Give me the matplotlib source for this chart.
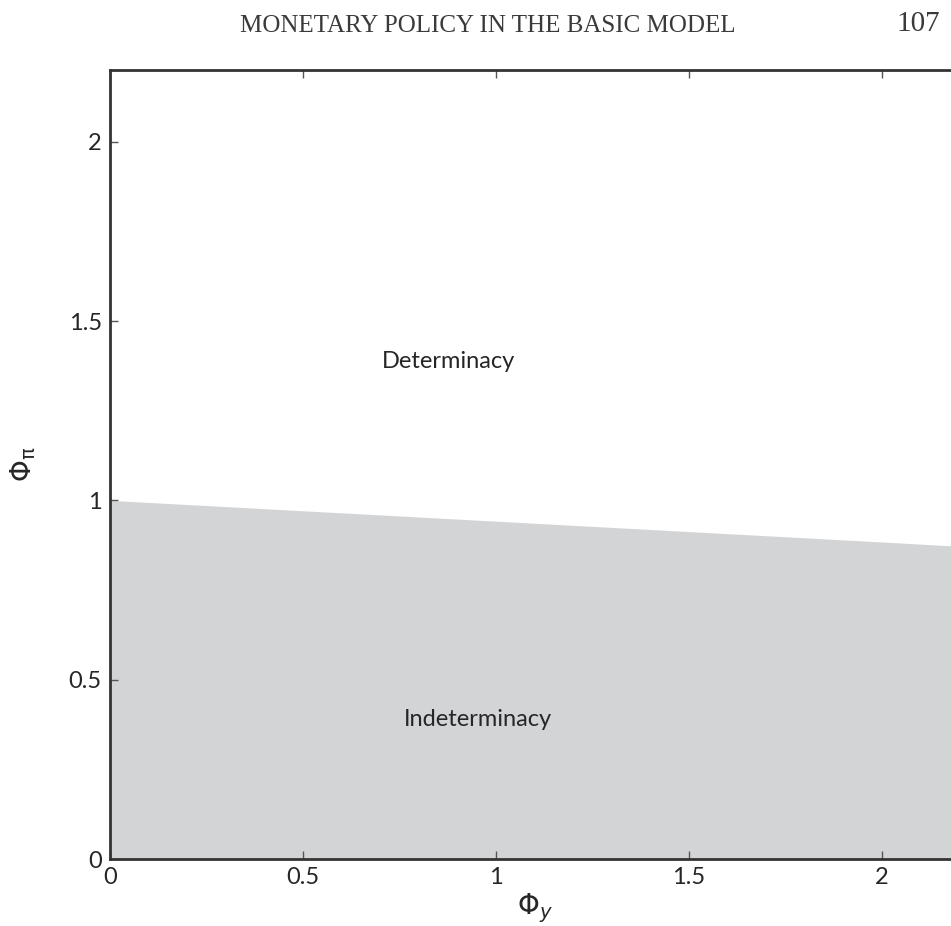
import matplotlib.pyplot as plt

# boundary of the indeterminacy region
phi_y = [0.0, 0.5, 1.0, 1.5, 2.0, 2.2]
phi_pi_boundary = [1.0, 0.971, 0.942, 0.913, 0.884, 0.872]

x_ticks = [0, 0.5, 1, 1.5, 2]
x_tick_labels = ["0", "0.5", "1", "1.5", "2"]
y_ticks = [0, 0.5, 1, 1.5, 2]
y_tick_labels = ["0", "0.5", "1", "1.5", "2"]

plt.rcParams["mathtext.fontset"] = "custom"
plt.rcParams["mathtext.it"] = "DejaVu Sans:italic"
plt.rcParams["mathtext.rm"] = "DejaVu Sans"

fig = plt.figure(figsize=(9.51, 9.26), dpi=100)
ax = fig.add_axes([110 / 951, 1 - 859 / 926, (959 - 110) / 951, (859 - 70) / 926])

# shaded indeterminacy area
ax.fill_between(phi_y, 0, phi_pi_boundary, color="#d3d4d6", linewidth=0)

ax.text(0.876, 1.386, "Determinacy", family="Lato", fontsize=17, color="#262626",
        ha="center", va="center")
ax.text(0.953, 0.388, "Indeterminacy", family="Lato", fontsize=17, color="#262626",
        ha="center", va="center")

ax.set_xlim(0, 2.2)
ax.set_ylim(0, 2.2)
ax.set_xticks(x_ticks)
ax.set_xticklabels(x_tick_labels, family="Lato", fontsize=17, color="#262626")
ax.set_yticks(y_ticks)
ax.set_yticklabels(y_tick_labels, family="Lato", fontsize=17, color="#262626")
ax.tick_params(direction="in", length=6, width=1.0, color="#555555",
               top=True, right=True, pad=6)

for s in ax.spines.values():
    s.set_linewidth(2.0)
    s.set_color("#333333")

ax.set_xlabel("$\\mathit{Φ}_\\mathit{y}$", fontsize=20, color="#262626", labelpad=2)
ax.set_ylabel("$\\mathit{Φ}_\\mathrm{π}$", fontsize=20, color="#262626", labelpad=22)

# page header
fig.text(488 / 951, 1 - 26 / 926, "MONETARY POLICY IN THE BASIC MODEL",
         family="Liberation Serif", fontsize=18, color="#3a3a3a", ha="center", va="center")
fig.text(918 / 951, 1 - 24 / 926, "107", family="Liberation Serif", fontsize=21,
         color="#3a3a3a", ha="center", va="center")

plt.savefig("out.png", dpi=100)
